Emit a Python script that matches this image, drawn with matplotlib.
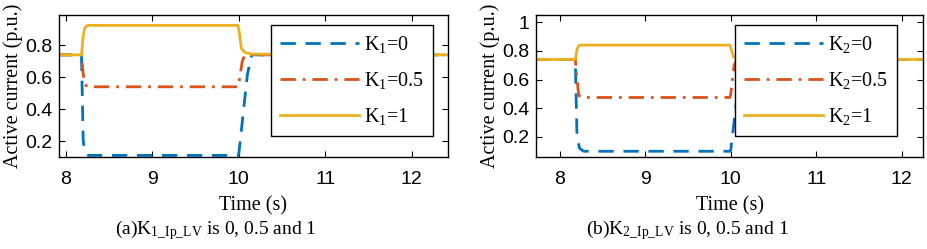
import matplotlib
matplotlib.use("Agg")
import matplotlib.pyplot as plt

plt.rcParams["font.family"] = "Liberation Serif"
plt.rcParams["mathtext.fontset"] = "custom"
plt.rcParams["mathtext.rm"] = "Liberation Serif"
plt.rcParams["mathtext.it"] = "Liberation Serif"

# panel (a): K1 sweep
t_a0 = [7.9, 8.18, 8.2, 8.22, 8.26, 9.99, 10.0, 10.1, 10.15, 12.5]
i_a0 = [0.74, 0.74, 0.2, 0.13, 0.11, 0.11, 0.12, 0.62, 0.74, 0.74]
t_a05 = [7.9, 8.18, 8.2, 8.22, 8.25, 9.99, 10.0, 10.04, 10.07, 12.5]
i_a05 = [0.74, 0.74, 0.62, 0.555, 0.54, 0.54, 0.56, 0.70, 0.74, 0.74]
t_a1 = [7.9, 8.18, 8.2, 8.22, 8.25, 9.99, 10.0, 10.03, 10.07, 10.15, 12.5]
i_a1 = [0.74, 0.74, 0.86, 0.91, 0.925, 0.925, 0.9, 0.78, 0.755, 0.745, 0.74]

# panel (b): K2 sweep
t_b0 = [7.7, 8.18, 8.2, 8.23, 8.28, 9.99, 10.0, 10.1, 10.15, 12.3]
i_b0 = [0.74, 0.74, 0.2, 0.12, 0.10, 0.10, 0.11, 0.62, 0.74, 0.74]
t_b05 = [7.7, 8.18, 8.2, 8.22, 8.25, 9.99, 10.0, 10.04, 10.07, 12.3]
i_b05 = [0.74, 0.74, 0.6, 0.49, 0.475, 0.475, 0.5, 0.70, 0.74, 0.74]
t_b1 = [7.7, 8.18, 8.2, 8.22, 8.25, 9.99, 10.0, 10.03, 10.07, 10.15, 12.3]
i_b1 = [0.74, 0.74, 0.81, 0.835, 0.84, 0.84, 0.82, 0.76, 0.745, 0.74, 0.74]

blue, red, yellow = "#0072BD", "#D95319", "#EDB120"
dash = (0, (5.5, 3.5))
dashdot = (0, (5.5, 2.5, 1, 2.5))

fig = plt.figure(figsize=(9.27, 2.49), dpi=100)
W, H = 927, 249


def make_ax(l, r, t, b):
    return fig.add_axes([l / W, (H - b) / H, (r - l) / W, (b - t) / H])


def style(ax, xlim, ylim, yticks, ylabels, anchor):
    ax.set_xlim(*xlim)
    ax.set_ylim(*ylim)
    ax.set_xticks([8, 9, 10, 11, 12])
    ax.set_xticklabels(["8", "9", "10", "11", "12"], family="Liberation Sans", fontsize=14)
    ax.set_yticks(yticks)
    ax.set_yticklabels(ylabels, family="Liberation Sans", fontsize=14)
    ax.tick_params(direction="in", top=True, right=True, length=4, width=0.8)
    ax.tick_params(axis="x", pad=10)
    ax.tick_params(axis="y", pad=5)
    for s in ax.spines.values():
        s.set_linewidth(1.0)
    ax.set_xlabel("Time (s)", fontsize=14.5, labelpad=6)
    ax.set_ylabel("Active current (p.u.)", fontsize=14.5, labelpad=1)
    leg = ax.legend(loc="upper right", bbox_to_anchor=anchor, borderaxespad=0,
                    fontsize=14.5, handlelength=3.9, handletextpad=0.25,
                    fancybox=False, framealpha=1, edgecolor="black",
                    borderpad=0.45, labelspacing=0.75)
    leg.get_frame().set_linewidth(1.0)


ax1 = make_ax(59, 448, 15, 157)
ax1.plot(t_a0, i_a0, color=blue, lw=2, ls=dash, label="K$_1$=0")
ax1.plot(t_a05, i_a05, color=red, lw=2, ls=dashdot, label="K$_1$=0.5")
ax1.plot(t_a1, i_a1, color=yellow, lw=2, label="K$_1$=1")
style(ax1, (7.92, 12.42), (0.1, 0.99), [0.2, 0.4, 0.6, 0.8],
      ["0.2", "0.4", "0.6", "0.8"], ((433 - 59) / 389, (157 - 25) / 142))

ax2 = make_ax(536, 923, 15, 157)
ax2.plot(t_b0, i_b0, color=blue, lw=2, ls=dash, label="K$_2$=0")
ax2.plot(t_b05, i_b05, color=red, lw=2, ls=dashdot, label="K$_2$=0.5")
ax2.plot(t_b1, i_b1, color=yellow, lw=2, label="K$_2$=1")
style(ax2, (7.72, 12.25), (0.06, 1.05), [0.2, 0.4, 0.6, 0.8, 1.0],
      ["0.2", "0.4", "0.6", "0.8", "1"], ((897 - 536) / 387, (157 - 25) / 142))

fig.text(216 / W, 19 / H, r"(a)K$_{\mathrm{1\_Ip\_LV}}$ is 0, 0.5 and 1",
         ha="center", va="center", fontsize=14)
fig.text(687 / W, 19 / H, r"(b)K$_{\mathrm{2\_Ip\_LV}}$ is 0, 0.5 and 1",
         ha="center", va="center", fontsize=14)

fig.savefig("out.png", dpi=100)
